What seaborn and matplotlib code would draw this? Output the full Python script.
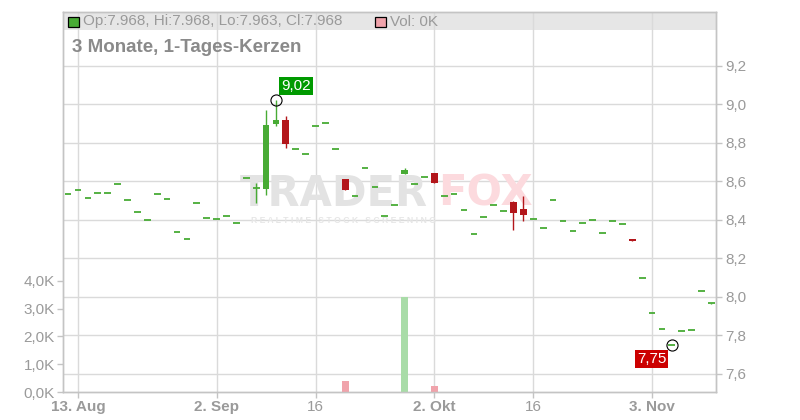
import numpy as np
import pandas as pd
import matplotlib
matplotlib.use("Agg")
import matplotlib.pyplot as plt
from matplotlib.patches import Rectangle
import seaborn as sns

# ---------------- data ----------------
trading_days = pd.bdate_range("2025-08-12", "2025-11-11")

open_ = [8.531, 8.553, 8.512, 8.536, 8.536, 8.583, 8.500, 8.437, 8.396, 8.531,
         8.505, 8.334, 8.297, 8.484, 8.406, 8.401, 8.417, 8.380, 8.616, 8.562,
         8.560, 8.898, 8.917, 8.765, 8.739, 8.884, 8.901, 8.765, 8.610, 8.521,
         8.666, 8.567, 8.418, 8.474, 8.635, 8.583, 8.619, 8.640, 8.521, 8.531,
         8.448, 8.323, 8.411, 8.474, 8.443, 8.491, 8.455, 8.401, 8.354, 8.500,
         8.390, 8.339, 8.380, 8.396, 8.328, 8.390, 8.375, 8.300, 8.095, 7.913,
         7.830, 7.750, 7.819, 7.824, 8.027, 7.968]
high = [8.531, 8.553, 8.512, 8.536, 8.536, 8.583, 8.500, 8.437, 8.396, 8.531,
        8.505, 8.334, 8.297, 8.484, 8.406, 8.401, 8.417, 8.380, 8.616, 8.588,
        8.970, 9.020, 8.938, 8.765, 8.739, 8.884, 8.901, 8.765, 8.610, 8.521,
        8.666, 8.567, 8.418, 8.474, 8.666, 8.583, 8.619, 8.640, 8.521, 8.531,
        8.448, 8.323, 8.411, 8.474, 8.443, 8.496, 8.522, 8.401, 8.354, 8.500,
        8.390, 8.339, 8.380, 8.396, 8.328, 8.390, 8.375, 8.300, 8.095, 7.913,
        7.830, 7.750, 7.819, 7.824, 8.027, 7.968]
low = [8.531, 8.553, 8.512, 8.536, 8.536, 8.583, 8.500, 8.437, 8.396, 8.531,
       8.505, 8.334, 8.297, 8.484, 8.406, 8.401, 8.417, 8.380, 8.616, 8.484,
       8.527, 8.887, 8.773, 8.765, 8.739, 8.884, 8.901, 8.765, 8.555, 8.521,
       8.666, 8.567, 8.418, 8.474, 8.635, 8.583, 8.619, 8.591, 8.521, 8.531,
       8.448, 8.323, 8.411, 8.474, 8.443, 8.345, 8.394, 8.401, 8.354, 8.500,
       8.390, 8.339, 8.380, 8.396, 8.328, 8.390, 8.375, 8.290, 8.095, 7.913,
       7.830, 7.750, 7.819, 7.824, 8.027, 7.963]
close = [8.531, 8.553, 8.512, 8.536, 8.536, 8.583, 8.500, 8.437, 8.396, 8.531,
         8.505, 8.334, 8.297, 8.484, 8.406, 8.401, 8.417, 8.380, 8.616, 8.562,
         8.891, 8.917, 8.794, 8.765, 8.739, 8.884, 8.901, 8.765, 8.555, 8.521,
         8.666, 8.567, 8.418, 8.474, 8.656, 8.583, 8.619, 8.591, 8.521, 8.531,
         8.448, 8.323, 8.411, 8.474, 8.443, 8.435, 8.425, 8.401, 8.354, 8.500,
         8.390, 8.339, 8.380, 8.396, 8.328, 8.390, 8.375, 8.290, 8.095, 7.913,
         7.830, 7.750, 7.819, 7.824, 8.027, 7.968]
volume = [0] * 28 + [400] + [0] * 5 + [3420] + [0] * 2 + [220] + [0] * 28

tick_dates = ["2025-08-13", "2025-09-02", "2025-09-16", "2025-10-02", "2025-10-16", "2025-11-03"]
tick_labels = ["13. Aug", "2. Sep", "16", "2. Okt", "16", "3. Nov"]
tick_bold = [True, True, False, True, False, True]
price_ticks = [7.6, 7.8, 8.0, 8.2, 8.4, 8.6, 8.8, 9.0, 9.2]
volume_ticks = [0, 1000, 2000, 3000, 4000]

title = "3 Monate, 1-Tages-Kerzen"
max_label, min_label = "9,02", "7,75"

# ---------------- styling ----------------
sns.set_theme(style="white")
plt.rcParams["font.family"] = ["Liberation Sans", "DejaVu Sans"]

GREEN = "#48ab35"
RED = "#b3161b"
VOL_UP = "#a9dca8"
VOL_DOWN = "#f0a3ab"
GRID = "#dadada"
TXT = "#9a9a9a"
SPINE = "#c4c4c4"

df = pd.DataFrame({"date": trading_days, "open": open_, "high": high,
                   "low": low, "close": close, "volume": volume})
df["day"] = np.arange(len(df))
df["dir"] = np.where(df["close"] > df["open"], "up",
                     np.where(df["close"] < df["open"], "down", "flat"))

W, H = 800, 420
fig = plt.figure(figsize=(8, 4.2), dpi=100)
L, R, T, B = 63, 716, 12, 392
ax = fig.add_axes([L / W, 1 - B / H, (R - L) / W, (B - T) / H])
axv = ax.twinx()

# x scale: trading-day index
xlim = (-0.515, len(df) - 1 + 0.46)
tick_pos = [int(np.where(trading_days == pd.Timestamp(d))[0][0]) for d in tick_dates]

# ---------- volume (seaborn) ----------
sns.barplot(data=df, x="day", y="volume", hue="dir",
            palette={"up": VOL_UP, "down": VOL_DOWN, "flat": VOL_UP},
            native_scale=True, width=0.68, dodge=False, saturation=1,
            errorbar=None, linewidth=0, legend=False, ax=axv, zorder=2)
axv.set_ylim(0, 13690)
axv.yaxis.tick_left()
axv.yaxis.set_label_position("left")
axv.set_yticks(volume_ticks)
axv.set_yticklabels([f"{v/1000:.1f}K".replace(".", ",") for v in volume_ticks])
axv.set_ylabel("")
axv.set_xlabel("")

# ---------- price candles ----------
ax.set_ylim(7.504, 9.478)
x = df["day"].to_numpy()
o = df["open"].to_numpy(); c = df["close"].to_numpy()
hi = df["high"].to_numpy(); lo = df["low"].to_numpy()
col = np.where(c >= o, GREEN, RED)

wick = hi > lo
ax.vlines(x[wick], lo[wick], hi[wick], colors=col[wick], lw=1.0, zorder=3)
body = np.abs(c - o) > 0.004
ax.bar(x[body], np.abs(c - o)[body], bottom=np.minimum(o, c)[body], width=0.68,
       color=col[body], linewidth=0, zorder=4)
flat = ~body
ax.hlines(c[flat], x[flat] - 0.34, x[flat] + 0.34, colors=col[flat], lw=1.3, zorder=4)

# extremes
imax = int(np.argmax(hi)); imin = int(np.argmin(lo))
ax.plot(imax, hi[imax], "o", mfc="none", mec="black", ms=8, mew=0.8, zorder=6)
ax.plot(imin, lo[imin], "o", mfc="none", mec="black", ms=8, mew=0.8, zorder=6)
ax.annotate(max_label, xy=(imax, hi[imax]), xytext=(14.4, 10), textcoords="offset points",
            ha="center", va="center", color="white", fontsize=11, zorder=7,
            bbox=dict(boxstyle="square,pad=0.12", fc="#009a00", ec="none"))
ax.annotate(min_label, xy=(imin, lo[imin]), xytext=(-14.4, -10.3), textcoords="offset points",
            ha="center", va="center", color="white", fontsize=11, zorder=7,
            bbox=dict(boxstyle="square,pad=0.12", fc="#cc0000", ec="none"))

# axes ticks
ax.yaxis.tick_right()
ax.set_yticks(price_ticks)
ax.set_yticklabels([f"{p:.1f}".replace(".", ",") for p in price_ticks])
ax.set_xticks(tick_pos)
ax.set_xticklabels(tick_labels)
for lab, b in zip(ax.get_xticklabels(), tick_bold):
    lab.set_fontweight("bold" if b else "normal")
ax.set_xlim(*xlim)
axv.set_xlim(*xlim)
axv.tick_params(axis="x", which="both", bottom=False, top=False,
                labelbottom=False, labeltop=False)

ax.set_axisbelow(True)
ax.grid(True, color=GRID, lw=1.0)
for a in (ax, axv):
    for s in a.spines.values():
        s.set_color(SPINE)
        s.set_linewidth(1.0)
ax.tick_params(axis="both", colors=SPINE, labelcolor=TXT, labelsize=11, length=4, width=1, pad=3)
ax.tick_params(axis="x", length=4, pad=2, bottom=True, labelbottom=True)
axv.tick_params(axis="y", colors=SPINE, labelcolor=TXT, labelsize=11, length=4, width=1, pad=2)

# header band
ax.add_patch(Rectangle((0, 1 - 18 / (B - T)), 1, 18 / (B - T), transform=ax.transAxes,
                       facecolor="#e6e6e6", edgecolor="none", zorder=0.3))

# watermark
def fx(px): return px / W
def fy(py): return 1 - py / H
ax.text(fx(240), fy(206), "TRADER", transform=fig.transFigure, family="DejaVu Sans",
        fontweight="bold", fontsize=30, color="#e3e3e3", va="baseline", ha="left", zorder=1)
ax.text(fx(438), fy(206), "FOX", transform=fig.transFigure, family="DejaVu Sans",
        fontweight="bold", fontsize=30, color="#fcdade", va="baseline", ha="left", zorder=1)
ax.text(fx(251), fy(223), "R E A L T I M E   S T O C K   S C R E E N I N G",
        transform=fig.transFigure, fontsize=6.2, color="#e6e6e6", va="baseline",
        ha="left", fontweight="bold", zorder=1)

# title and legend
fig.text(fx(72), fy(47), title, fontsize=13.5, fontweight="bold", color="#8a8a8a", va="center")
last = df.iloc[-1]
fig.patches.append(Rectangle((fx(68), fy(27)), 11 / W, 10 / H, transform=fig.transFigure,
                             facecolor=GREEN, edgecolor="black", lw=0.9))
fig.text(fx(83), fy(21.5),
         f"Op:{last.open:.3f}, Hi:{last.high:.3f}, Lo:{last.low:.3f}, Cl:{last.close:.3f}",
         fontsize=11, color=TXT, va="center")
fig.patches.append(Rectangle((fx(375), fy(27)), 11 / W, 10 / H, transform=fig.transFigure,
                             facecolor=VOL_DOWN, edgecolor="black", lw=0.9))
fig.text(fx(390), fy(21.5), f"Vol: {last.volume/1000:.0f}K", fontsize=11, color=TXT, va="center")

fig.savefig("out.png", dpi=100)
